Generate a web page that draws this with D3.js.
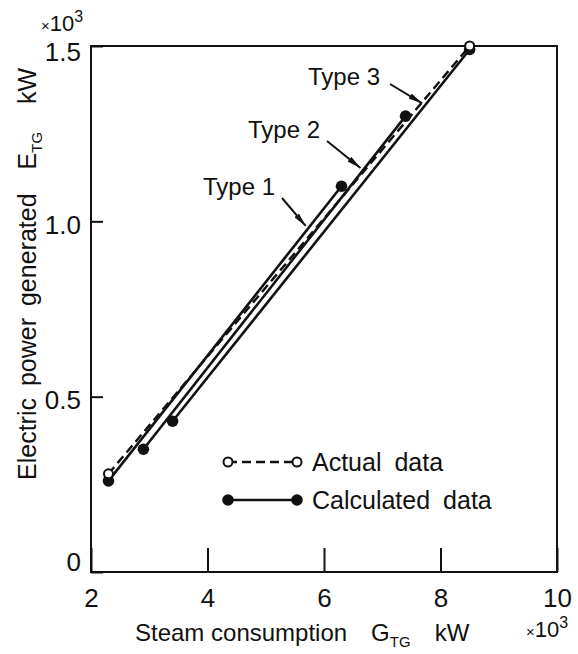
<!DOCTYPE html>
<html>
<head>
    <script src="https://d3js.org/d3.v7.min.js"></script>
    <style>
        body { margin: 0; background: #fff; }
        text { font-family: "Liberation Sans", Arial, sans-serif; fill: #111; }
    </style>
</head>
<body>
    <div id="viz"></div>
    <script type="text/javascript">

    // ticks (x in 10^3 kW, y in 10^3 kW)
    var xTicks = [2, 4, 6, 8, 10];
    var yTicks = [0, 0.5, 1.0, 1.5];
    var yTickLabels = ["0", "0.5", "1.0", "1.5"];

    // actual data (open circles, dashed)
    var actualX = [2.3, 8.5];
    var actualY = [0.28, 1.50];

    // calculated data, one line per turbine type
    var typeNames = ["Type 1", "Type 2", "Type 3"];
    var type1X = [2.3, 6.3],  type1Y = [0.26, 1.10];
    var type2X = [2.9, 7.4],  type2Y = [0.35, 1.30];
    var type3X = [3.4, 8.5],  type3Y = [0.43, 1.49];

    var legendNames = ["Actual data", "Calculated data"];

    var width = 578, height = 654;
    var plotL = 91, plotR = 557, plotT = 46, plotB = 572;

    var x = d3.scaleLinear().domain([2, 10]).range([plotL, plotR]);
    var y = d3.scaleLinear().domain([0, 1.5]).range([plotB, plotT]);

    var svg = d3.select("#viz")
        .append("svg")
        .attr("width", width)
        .attr("height", height);

    // frame
    svg.append("rect")
        .attr("x", plotL).attr("y", plotT)
        .attr("width", plotR - plotL).attr("height", plotB - plotT)
        .style("fill", "none").style("stroke", "#111").style("stroke-width", 2);

    // x axis, ticks pointing inward
    var xAxis = svg.append("g")
        .attr("transform", "translate(0," + plotB + ")")
        .call(d3.axisBottom(x).tickValues(xTicks).tickSizeInner(-24).tickSizeOuter(0).tickPadding(17));
    xAxis.select(".domain").remove();
    xAxis.selectAll("line").style("stroke", "#111").style("stroke-width", 2);
    xAxis.selectAll("text").style("font-size", "26px").attr("fill", "#111")
        .style("font-family", "Liberation Sans, Arial, sans-serif");

    // y axis
    var yAxis = svg.append("g")
        .attr("transform", "translate(" + plotL + ",0)")
        .call(d3.axisLeft(y).tickValues(yTicks).tickSizeInner(-12).tickSizeOuter(0).tickPadding(10)
            .tickFormat(function(d, i) { return yTickLabels[i]; }));
    yAxis.select(".domain").remove();
    yAxis.selectAll("line").style("stroke", "#111").style("stroke-width", 2);
    yAxis.selectAll("text").style("font-size", "26px").attr("fill", "#111")
        .style("font-family", "Liberation Sans, Arial, sans-serif")
        .attr("dy", function(d) { return d === 0 ? "-0.05em" : (d === 1.5 ? "0.55em" : "0.45em"); });

    // multipliers
    function multiplier(px, py) {
        var t = svg.append("text").attr("x", px).attr("y", py).style("font-size", "22px");
        t.append("tspan").text("\u00d7").style("font-size", "15px");
        t.append("tspan").text("10");
        t.append("tspan").text("3").attr("dy", -9).style("font-size", "16px");
    }
    multiplier(41, 31);
    multiplier(526, 637);

    // axis titles
    var xt = svg.append("text").attr("x", 135).attr("y", 641).style("font-size", "24px");
    xt.append("tspan").text("Steam consumption");
    xt.append("tspan").text("G").attr("dx", 24);
    xt.append("tspan").text("TG").attr("dy", 6).style("font-size", "15px");
    xt.append("tspan").text("kW").attr("dx", 24).attr("dy", -6);

    var yt = svg.append("text")
        .attr("transform", "translate(36,480) rotate(-90)")
        .attr("text-anchor", "start")
        .style("font-size", "25px")
        .style("word-spacing", "5px");
    yt.append("tspan").text("Electric power generated");
    yt.append("tspan").text("E").attr("dx", 24);
    yt.append("tspan").text("TG").attr("dy", 6).style("font-size", "15px");
    yt.append("tspan").text("kW").attr("dx", 28).attr("dy", -6);

    var line = d3.line().x(function(d) { return x(d[0]); }).y(function(d) { return y(d[1]); });

    // calculated lines
    var types = [[type1X, type1Y], [type2X, type2Y], [type3X, type3Y]];
    types.forEach(function(t) {
        var pts = d3.zip(t[0], t[1]);
        svg.append("path").attr("d", line(pts))
            .style("fill", "none").style("stroke", "#111").style("stroke-width", 2.6);
    });

    // actual line
    var actualPts = d3.zip(actualX, actualY);
    svg.append("path").attr("d", line(actualPts))
        .style("fill", "none").style("stroke", "#111").style("stroke-width", 2.4)
        .style("stroke-dasharray", "9,5");

    types.forEach(function(t) {
        d3.zip(t[0], t[1]).forEach(function(p) {
            svg.append("circle").attr("cx", x(p[0])).attr("cy", y(p[1])).attr("r", 5.8)
                .style("fill", "#111");
        });
    });
    actualPts.forEach(function(p) {
        svg.append("circle").attr("cx", x(p[0])).attr("cy", y(p[1])).attr("r", 4.5)
            .style("fill", "#fff").style("stroke", "#111").style("stroke-width", 2);
    });

    // annotations: label position, arrow start, and x (data) where the arrow meets its line
    var notes = [
        { tx: 203, ty: 195, ax: 282, ay: 198, hx: 5.72 },
        { tx: 248, ty: 138, ax: 327, ay: 141, hx: 6.66 },
        { tx: 308, ty: 85,  ax: 390, ay: 84,  hx: 7.72 }
    ];
    svg.append("defs").append("marker")
        .attr("id", "arrow").attr("viewBox", "0 0 14 6")
        .attr("refX", 14).attr("refY", 3)
        .attr("markerWidth", 14).attr("markerHeight", 6)
        .attr("markerUnits", "userSpaceOnUse")
        .attr("orient", "auto")
        .append("path").attr("d", "M0,0 L14,3 L0,6 Z").style("fill", "#111");

    notes.forEach(function(n, i) {
        var t = types[i];
        var hy = d3.scaleLinear().domain(t[0]).range(t[1])(n.hx);
        svg.append("text").attr("x", n.tx).attr("y", n.ty).style("font-size", "24px").text(typeNames[i]);
        svg.append("line")
            .attr("x1", n.ax).attr("y1", n.ay)
            .attr("x2", x(n.hx) - 2).attr("y2", y(hy) - 3)
            .style("stroke", "#111").style("stroke-width", 2)
            .attr("marker-end", "url(#arrow)");
    });

    // legend
    var legend = svg.append("g").attr("transform", "translate(228,462)");
    legendNames.forEach(function(name, i) {
        var g = legend.append("g").attr("transform", "translate(0," + i * 38 + ")");
        g.append("line").attr("x1", 0).attr("x2", 69)
            .style("stroke", "#111").style("stroke-width", 2.4)
            .style("stroke-dasharray", i === 0 ? "9,5" : null);
        [0, 69].forEach(function(cx) {
            g.append("circle").attr("cx", cx).attr("r", i === 0 ? 4.5 : 5.8)
                .style("fill", i === 0 ? "#fff" : "#111")
                .style("stroke", "#111").style("stroke-width", i === 0 ? 2 : 0);
        });
        g.append("text").attr("x", 84).attr("y", 0).attr("dy", "0.36em")
            .style("font-size", "25px").style("word-spacing", "6px").text(name);
    });

    </script>
</body>
</html>
